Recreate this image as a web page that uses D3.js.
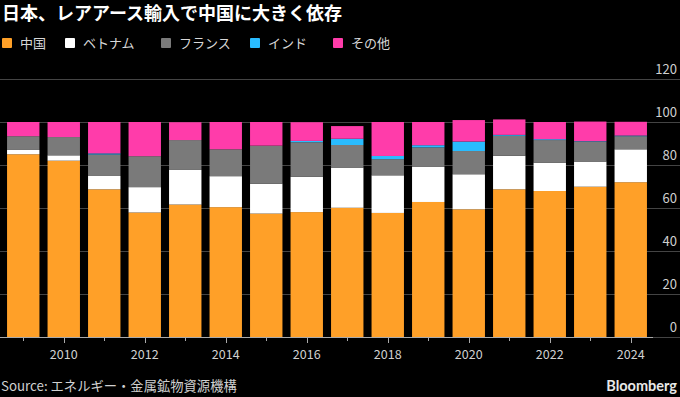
<!DOCTYPE html>
<html>
<head>
<meta charset="utf-8">
<script src="https://cdn.jsdelivr.net/npm/d3@7"></script>
<style>
  body { margin: 0; background: #000; }
  svg { display: block; font-family: "Noto Sans CJK JP", "Noto Sans", sans-serif; }
</style>
</head>
<body>
<div id="chart"></div>
<script>
// data (% share of Japan's rare earth imports)
const years   = [2009, 2010, 2011, 2012, 2013, 2014, 2015, 2016, 2017, 2018, 2019, 2020, 2021, 2022, 2023, 2024];
const china   = [85.0, 82.0, 68.7, 57.9, 61.6, 60.4, 57.4, 58.1, 60.1, 57.7, 62.8, 59.4, 68.7, 67.9, 69.9, 72.0];
const vietnam = [2.0, 2.5, 6.2, 11.8, 16.1, 14.4, 13.9, 16.4, 18.7, 17.5, 16.3, 16.3, 15.6, 13.2, 11.7, 15.3];
const france  = [6.4, 8.5, 10.0, 14.4, 13.9, 12.5, 17.7, 16.1, 10.5, 7.5, 9.1, 10.8, 9.3, 10.5, 9.3, 6.1];
const india   = [0, 0, 0.5, 0, 0, 0, 0, 0.6, 2.9, 1.5, 1.0, 4.4, 0.4, 0.4, 0.2, 0.3];
const other   = [6.6, 7.0, 14.6, 15.9, 8.3, 12.7, 11.0, 8.7, 5.9, 15.8, 10.8, 10.0, 7.2, 8.0, 9.1, 6.4];

const seriesKeys  = ["中国", "ベトナム", "フランス", "インド", "その他"];
const seriesVals  = [china, vietnam, france, india, other];
const colors      = ["#ffa028", "#ffffff", "#7a7a7a", "#29bcff", "#ff3caa"];
const yTicks      = [0, 20, 40, 60, 80, 100, 120];

const width = 680, height = 397;
const margin = {top: 79, bottom: 60, left: 3, right: 29};

const table = years.map((yr, i) => {
    const row = {year: yr};
    seriesKeys.forEach((k, j) => row[k] = seriesVals[j][i]);
    return row;
});
const stacked = d3.stack().keys(seriesKeys)(table);

const svg = d3.select("#chart").append("svg")
    .attr("width", width)
    .attr("height", height);

const x = d3.scaleBand()
    .domain(years)
    .range([margin.left, width - margin.right])
    .paddingInner(0.2)
    .paddingOuter(0.1);

const y = d3.scaleLinear()
    .domain([0, 120])
    .range([height - margin.bottom, margin.top]);

// gridlines + right labels
const grid = svg.append("g");
grid.selectAll("line")
    .data(yTicks)
    .join("line")
    .attr("x1", 0).attr("x2", width)
    .attr("y1", d => Math.round(y(d)) + 0.5)
    .attr("y2", d => Math.round(y(d)) + 0.5)
    .attr("stroke", "#444")
    .attr("stroke-width", 1);
grid.selectAll("text")
    .data(yTicks)
    .join("text")
    .attr("x", width - 3)
    .attr("y", d => y(d) - 5)
    .attr("text-anchor", "end")
    .attr("fill", "#d0d0d0")
    .attr("font-size", 13)
    .text(d => d);

// bars
svg.append("g")
    .selectAll("g")
    .data(stacked)
    .join("g")
    .attr("fill", (d, i) => colors[i])
    .selectAll("rect")
    .data(d => d.filter(s => s[1] - s[0] > 0))
    .join("rect")
    .attr("x", d => x(d.data.year))
    .attr("width", x.bandwidth())
    .attr("y", d => y(d[1]))
    .attr("height", d => y(d[0]) - y(d[1]));

// bottom axis
const axisY = y(0);
svg.append("line")
    .attr("x1", 0).attr("x2", width - margin.right + 2)
    .attr("y1", axisY + 0.5).attr("y2", axisY + 0.5)
    .attr("stroke", "#aaa");

const xt = svg.append("g");
xt.selectAll("line")
    .data(years)
    .join("line")
    .attr("x1", d => Math.round(x(d) + x.bandwidth() / 2) + 0.5)
    .attr("x2", d => Math.round(x(d) + x.bandwidth() / 2) + 0.5)
    .attr("y1", axisY)
    .attr("y2", d => axisY + (d % 2 === 0 ? 6 : 4))
    .attr("stroke", "#aaa");
xt.selectAll("text")
    .data(years.filter(d => d % 2 === 0))
    .join("text")
    .attr("x", d => x(d) + x.bandwidth() / 2)
    .attr("y", axisY + 22)
    .attr("text-anchor", "middle")
    .attr("fill", "#d0d0d0")
    .attr("font-size", 12.5)
    .text(d => d);

// title
svg.append("text")
    .attr("x", 2).attr("y", 20)
    .attr("fill", "#fff")
    .attr("font-size", 18)
    .attr("font-weight", "bold")
    .text("日本、レアアース輸入で中国に大きく依存");

// legend
const legendX = [2, 65, 161, 250, 333];
const legend = svg.append("g")
    .selectAll("g")
    .data(seriesKeys)
    .join("g")
    .attr("transform", (d, i) => `translate(${legendX[i]},38)`);
legend.append("rect")
    .attr("width", 10).attr("height", 10)
    .attr("rx", 1)
    .attr("fill", (d, i) => colors[i]);
legend.append("text")
    .attr("x", 18).attr("y", 9.5)
    .attr("fill", "#d8d8d8")
    .attr("font-size", 13)
    .text(d => d);

// footer
svg.append("text")
    .attr("x", 1).attr("y", 391)
    .attr("fill", "#d0d0d0")
    .attr("font-size", 13.3)
    .text("Source: エネルギー・金属鉱物資源機構");
svg.append("text")
    .attr("x", width - 3).attr("y", 391)
    .attr("text-anchor", "end")
    .attr("fill", "#e8e8e8")
    .attr("font-size", 14.5)
    .attr("font-weight", "bold")
    .attr("font-family", "Lato, 'Open Sans', sans-serif")
    .text("Bloomberg");
</script>
</body>
</html>
